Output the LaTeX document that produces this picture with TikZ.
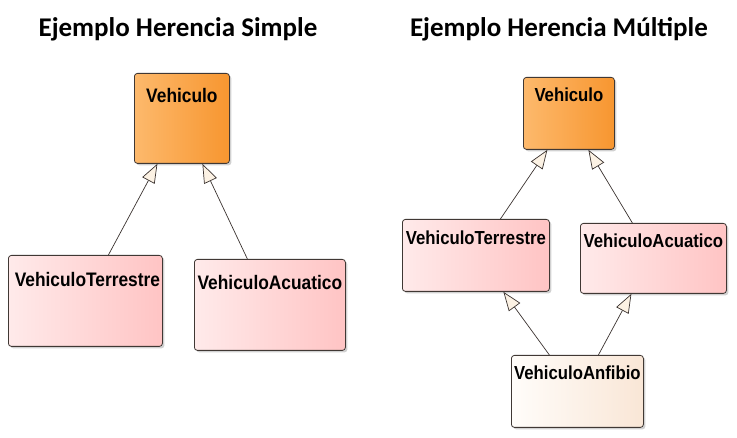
\documentclass[tikz,border=0pt]{standalone}
\usepackage{fontspec}
\setmainfont{Liberation Sans}
\newfontfamily\titlefont{Carlito}
\usetikzlibrary{arrows.meta,shadows,calc}
\definecolor{vleft}{RGB}{253,185,108}
\definecolor{vright}{RGB}{247,150,48}
\definecolor{pleft}{RGB}{255,234,234}
\definecolor{pright}{RGB}{255,196,196}
\definecolor{aleft}{RGB}{255,253,250}
\definecolor{aright}{RGB}{249,230,214}
\definecolor{bordercol}{RGB}{64,56,52}
\definecolor{tipcol}{RGB}{252,242,228}
\newcommand\tallbox[1]{\scalebox{1.02}[1.15]{#1}}
\tikzset{
  umlbox/.style={draw=bordercol, line width=0.8pt, rounded corners=3pt, anchor=north west,
    inner sep=0pt,
    drop shadow={shadow xshift=2pt, shadow yshift=-2pt, fill=black!30, opacity=0.6}},
  basecls/.style={umlbox, left color=vleft, right color=vright},
  midcls/.style={umlbox, left color=pleft, right color=pright},
  leafcls/.style={umlbox, left color=aleft, right color=aright},
  lbl/.style={font=\bfseries\fontsize{17}{20}\selectfont, anchor=base, inner sep=0pt},
  lblr/.style={font=\bfseries\fontsize{16.4}{20}\selectfont, anchor=base, inner sep=0pt},
  ttl/.style={font=\titlefont\bfseries\fontsize{27}{32}\selectfont, anchor=base, inner sep=0pt},
  inh/.style={draw=bordercol!90!black, line width=0.7pt,
    -{Triangle[length=19pt, width=14pt, fill=tipcol]}},
}
\begin{document}
\begin{tikzpicture}[x=1pt,y=1pt]
\useasboundingbox (0,0) rectangle (737,-438);
% titles
\node[ttl] (t1) at (178,-37) {Ejemplo Herencia Simple};
\node[ttl] (t2) at (559,-37) {Ejemplo Herencia Múltiple};
% left diagram
\node[basecls, minimum width=95pt, minimum height=90pt] (lv) at (134,-73) {};
\node[midcls, minimum width=154pt, minimum height=91pt] (lt) at (8,-255) {};
\node[midcls, minimum width=151pt, minimum height=91pt] (la) at (194,-259) {};
\node[lbl] (lvt) at ([yshift=-30pt]lv.north) {\tallbox{Vehiculo}};
\node[lbl] (ltt) at ([yshift=-32pt,xshift=2pt]lt.north) {\tallbox{VehiculoTerrestre}};
\node[lbl] (lat) at ([yshift=-31pt]la.north) {\tallbox{VehiculoAcuatico}};
\draw[inh] ([xshift=23pt]lt.north) -- ([xshift=-24.5pt]lv.south);
\draw[inh] ([xshift=-22.5pt]la.north) -- ([xshift=20.5pt]lv.south);
% right diagram
\node[basecls, minimum width=91pt, minimum height=72pt] (rv) at (523,-77) {};
\node[midcls, minimum width=147pt, minimum height=72pt] (rt) at (402,-219) {};
\node[midcls, minimum width=146pt, minimum height=70pt] (ra) at (580,-223) {};
\node[leafcls, minimum width=132pt, minimum height=72pt] (rn) at (511,-355) {};
\node[lblr] (rvt) at ([yshift=-25pt]rv.north) {\tallbox{Vehiculo}};
\node[lblr] (rtt) at ([yshift=-26pt]rt.north) {\tallbox{VehiculoTerrestre}};
\node[lblr] (rat) at ([yshift=-25pt]ra.north) {\tallbox{VehiculoAcuatico}};
\node[lblr] (rnt) at ([yshift=-25pt]rn.north) {\tallbox{VehiculoAnfibio}};
\draw[inh] ([xshift=24.5pt]rt.north) -- ([xshift=-21.5pt]rv.south);
\draw[inh] ([xshift=-21pt]ra.north) -- ([xshift=19.5pt]rv.south);
\draw[inh] ([xshift=-28pt]rn.north) -- ([xshift=27.5pt]rt.south);
\draw[inh] ([xshift=21pt]rn.north) -- ([xshift=-22pt]ra.south);
\end{tikzpicture}
\end{document}
